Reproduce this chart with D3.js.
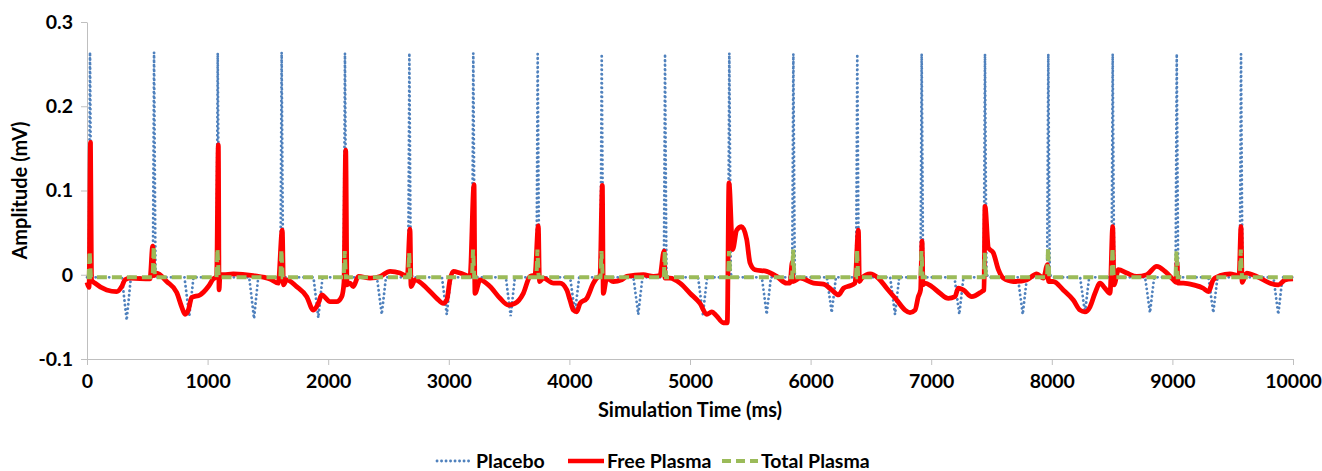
<!DOCTYPE html>
<html>
<head>
<meta charset="utf-8">
<script src="https://cdn.jsdelivr.net/npm/d3@7"></script>
<style>
  body { margin: 0; background: #fff; }
  svg text { font-family: Lato, "Open Sans", sans-serif; font-weight: bold; fill: #000; }
</style>
</head>
<body>
<div id="chart"></div>
<script>
// Axis ticks
const xTicks = [0, 1000, 2000, 3000, 4000, 5000, 6000, 7000, 8000, 9000, 10000];
const yTicks = [-0.1, 0, 0.1, 0.2, 0.3];

// Placebo beats: spike times (ms), spike peaks, T-wave dip times and depths (mV)
const placeboSpikeTimes = [25, 556, 1084, 1614, 2139, 2673, 3203, 3737, 4268, 4793,
    5326, 5857, 6387, 6921, 7446, 7971, 8505, 9036, 9569];
const placeboPeaks = [0.264, 0.264, 0.263, 0.264, 0.263, 0.263, 0.263, 0.262, 0.262, 0.262,
    0.263, 0.262, 0.262, 0.262, 0.262, 0.262, 0.262, 0.262, 0.262];
const placeboDipTimes = [329, 848, 1385, 1918, 2444, 2983, 3513, 4046, 4571, 5107,
    5636, 6175, 6700, 7233, 7759, 8275, 8814, 9339, 9878];
const placeboDips = [-0.054, -0.049, -0.052, -0.051, -0.047, -0.047, -0.049, -0.045, -0.047, -0.047,
    -0.047, -0.045, -0.047, -0.047, -0.047, -0.045, -0.045, -0.045, -0.047];
const placeboBase = -0.003;

// Free plasma trace (ms, mV)
const freeTime = [0, 17, 29, 37, 66, 163, 246, 288, 315, 357, 522,
    545, 556, 578, 661, 744, 785, 813, 840, 868, 937, 1006, 1047, 1075,
    1089, 1095, 1103, 1130, 1213, 1379, 1517, 1586,
    1619, 1629, 1656, 1738, 1822, 1876, 1918, 1946, 2015, 2070, 2112, 2131,
    2145, 2156, 2181, 2208, 2250, 2347, 2430, 2513, 2595, 2656,
    2678, 2687, 2720, 2817, 2900, 2955, 2983, 3010, 3037, 3093, 3176,
    3209, 3217, 3259, 3342, 3425, 3494, 3549, 3618, 3673, 3715,
    3742, 3752, 3784, 3867, 3922, 3978, 4005, 4033, 4061, 4088, 4144, 4199, 4226, 4254,
    4273, 4281, 4309, 4364, 4434, 4475, 4613, 4696, 4751,
    4785, 4793, 4834, 4917, 5000, 5083, 5139, 5180, 5221, 5276, 5309,
    5323, 5354, 5387, 5428, 5470, 5498, 5539, 5636, 5719, 5801, 5829,
    5848, 5854, 5913, 6024, 6107, 6175, 6232, 6273, 6327, 6368,
    6396, 6405, 6425, 6494, 6561, 6631, 6714, 6783, 6824, 6866, 6893, 6912,
    6924, 6932, 6949, 7004, 7073, 7142, 7197, 7225, 7266, 7336, 7419, 7438,
    7446, 7474, 7515, 7557, 7598, 7681, 7792, 7875, 7930,
    7965, 7973, 8012, 8095, 8178, 8234, 8275, 8317, 8358, 8400, 8441, 8483,
    8505, 8516, 8552, 8622, 8705, 8787, 8870, 8939, 9008, 9030,
    9038, 9047, 9091, 9174, 9256, 9298, 9339, 9395, 9478, 9553,
    9569, 9578, 9616, 9699, 9810, 9879, 9935, 10000];
const freeAmp = [-0.009, -0.015, 0.157, -0.006, -0.010, -0.018, -0.020, -0.014, -0.006, -0.004, -0.005,
    0.034, -0.001, 0.002, -0.008, -0.021, -0.038, -0.047, -0.042, -0.027, -0.024, -0.014, -0.005, -0.002,
    0.154, -0.018, 0.000, 0.000, 0.001, -0.001, -0.005, -0.010,
    0.053, -0.012, -0.006, -0.014, -0.026, -0.042, -0.034, -0.024, -0.032, -0.032, -0.026, -0.009,
    0.148, -0.012, -0.010, -0.014, -0.002, -0.004, -0.002, 0.004, 0.002, -0.002,
    0.054, -0.014, -0.006, -0.016, -0.028, -0.034, -0.030, -0.006, 0.004, 0.002, -0.002,
    0.107, -0.022, -0.006, -0.014, -0.028, -0.036, -0.034, -0.022, -0.002, 0.000,
    0.058, -0.008, -0.004, -0.010, -0.010, -0.018, -0.030, -0.042, -0.044, -0.034, -0.028, -0.010, -0.004, -0.001,
    0.106, -0.022, -0.004, -0.008, -0.006, -0.002, 0.000, -0.002, -0.001,
    0.028, -0.004, -0.004, -0.010, -0.022, -0.034, -0.047, -0.044, -0.049, -0.057, -0.057,
    0.109, 0.030, 0.053, 0.057, 0.042, 0.014, 0.006, 0.004, -0.002, -0.010, -0.010,
    0.015, -0.008, -0.004, -0.010, -0.011, -0.018, -0.024, -0.016, -0.013, -0.010,
    0.053, -0.008, -0.004, 0.001, -0.004, -0.016, -0.030, -0.042, -0.045, -0.042, -0.026, -0.018,
    0.040, -0.012, -0.010, -0.014, -0.022, -0.028, -0.026, -0.016, -0.018, -0.026, -0.020, -0.018,
    0.081, 0.032, 0.026, 0.006, -0.004, -0.008, -0.006, 0.001, -0.004,
    0.012, -0.008, -0.008, -0.018, -0.030, -0.042, -0.044, -0.038, -0.022, -0.010, -0.016, -0.022,
    0.057, -0.012, 0.006, 0.002, -0.002, 0.000, 0.010, 0.004, -0.006, -0.009,
    0.015, -0.010, -0.010, -0.012, -0.016, -0.020, -0.006, -0.001, 0.001, -0.001,
    0.057, -0.009, 0.002, -0.002, -0.010, -0.012, -0.006, -0.005];

// Total plasma: small spikes at each beat over a flat baseline
const totalSpikeTimes = [22, 553, 1082, 1612, 2137, 2671, 3201, 3735, 4266, 4791,
    5324, 5855, 6385, 6919, 7444, 7969, 8503, 9034, 9567];
const totalPeaks = [0.028, 0.034, 0.031, 0.030, 0.028, 0.026, 0.030, 0.030, 0.028, 0.028,
    0.028, 0.030, 0.030, 0.028, 0.026, 0.032, 0.032, 0.028, 0.030];
const totalBase = -0.003;

const seriesNames = ["Placebo", "Free Plasma", "Total Plasma"];

// Layout
const width = 1322, height = 471;
const plot = { left: 87, right: 1293, top: 22, bottom: 359 };
const fontSize = "19.5px";

const svg = d3.select("#chart")
    .append("svg")
    .attr("width", width)
    .attr("height", height);

const x = d3.scaleLinear().domain([0, 10000]).range([plot.left, plot.right]);
const y = d3.scaleLinear().domain([-0.1, 0.3]).range([plot.bottom, plot.top]);

// Build the point lists
const placeboPts = [[0, placeboBase]];
placeboSpikeTimes.forEach((t, i) => {
    placeboPts.push([t - 10, placeboBase], [t, placeboPeaks[i]], [t + 12, 0.001], [t + 28, placeboBase]);
    const dt = placeboDipTimes[i];
    placeboPts.push([dt - 40, placeboBase], [dt, placeboDips[i]], [dt + 35, placeboBase]);
});
placeboPts.push([10000, placeboBase]);
placeboPts.sort((a, b) => a[0] - b[0]);

const freePts = freeTime.map((t, i) => [t, freeAmp[i]]);

const totalPts = [[0, totalBase]];
totalSpikeTimes.forEach((t, i) => {
    totalPts.push([t - 8, totalBase], [t, totalPeaks[i]], [t + 10, totalBase]);
});
totalPts.push([10000, totalBase]);

const line = d3.line().x(d => x(d[0])).y(d => y(d[1]));
const smooth = d3.line().x(d => x(d[0])).y(d => y(d[1])).curve(d3.curveMonotoneX);

// Axes
const axisColor = "#bfbfbf";
const xAxis = svg.append("g")
    .attr("transform", `translate(0,${plot.bottom})`)
    .call(d3.axisBottom(x).tickValues(xTicks).tickSize(6).tickSizeOuter(0).tickPadding(9)
        .tickFormat(d3.format("d")));
const yAxis = svg.append("g")
    .attr("transform", `translate(${plot.left},0)`)
    .call(d3.axisLeft(y).tickValues(yTicks).tickSize(6).tickSizeOuter(0).tickPadding(8)
        .tickFormat(d => d === 0 ? "0" : d.toFixed(1)));
[xAxis, yAxis].forEach(a => {
    a.selectAll("path, line").attr("stroke", axisColor);
    a.selectAll("text").style("font-size", fontSize).attr("fill", "#000");
});

// Series
svg.append("path")
    .datum(placeboPts)
    .attr("fill", "none")
    .attr("stroke", "#4f81bd")
    .attr("stroke-width", 2.8)
    .attr("stroke-linecap", "round")
    .attr("stroke-dasharray", "0.1,4.4")
    .attr("d", line);

svg.append("path")
    .datum(freePts)
    .attr("fill", "none")
    .attr("stroke", "#ff0000")
    .attr("stroke-width", 4.8)
    .attr("stroke-linejoin", "round")
    .attr("d", smooth);

svg.append("path")
    .datum(totalPts)
    .attr("fill", "none")
    .attr("stroke", "#9bbb59")
    .attr("stroke-width", 4)
    .attr("stroke-dasharray", "10,5")
    .attr("d", line);

// Axis titles
svg.append("text")
    .attr("x", (plot.left + plot.right) / 2)
    .attr("y", 417)
    .attr("text-anchor", "middle")
    .style("font-size", "20px")
    .text("Simulation Time (ms)");

svg.append("text")
    .attr("transform", "rotate(-90)")
    .attr("x", -(plot.top + plot.bottom) / 2)
    .attr("y", 27)
    .attr("text-anchor", "middle")
    .style("font-size", "20px")
    .text("Amplitude (mV)");

// Legend
const legendItems = [
    { x: 437, color: "#4f81bd", width: 2.8, dash: "0.1,4.4", cap: "round" },
    { x: 568, color: "#ff0000", width: 4.5, dash: null, cap: "butt" },
    { x: 722, color: "#9bbb59", width: 4, dash: "9,5", cap: "butt" }
];
const legendY = 461;
legendItems.forEach((item, i) => {
    svg.append("line")
        .attr("x1", item.x).attr("x2", item.x + 36)
        .attr("y1", legendY).attr("y2", legendY)
        .attr("stroke", item.color)
        .attr("stroke-width", item.width)
        .attr("stroke-linecap", item.cap)
        .attr("stroke-dasharray", item.dash);
    svg.append("text")
        .attr("x", item.x + 39)
        .attr("y", legendY + 7)
        .style("font-size", fontSize)
        .text(seriesNames[i]);
});
</script>
</body>
</html>
